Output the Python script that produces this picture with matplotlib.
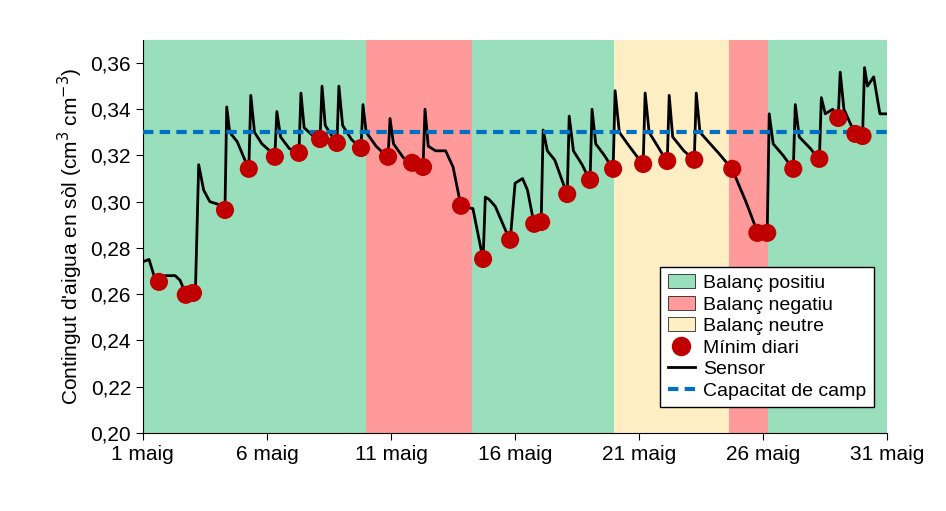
import matplotlib
matplotlib.use("Agg")
import matplotlib.pyplot as plt
from matplotlib.patches import Patch
from matplotlib.lines import Line2D

# Period shading (start day, end day, kind)
period_starts = [1, 10.0, 14.25, 20.0, 24.6, 26.2]
period_ends = [10.0, 14.25, 20.0, 24.6, 26.2, 31]
period_kind = ["pos", "neg", "pos", "neu", "neg", "pos"]
kind_colors = {"pos": "#99dfbb", "neg": "#ff9a9a", "neu": "#fdeec3"}

# Daily minimums
min_days = [1.65, 2.73, 3.02, 4.31, 5.27, 6.32, 7.29, 8.14, 8.82, 9.79, 10.88, 11.85, 12.29,
            13.82, 14.71, 15.80, 16.77, 17.05, 18.10, 19.02, 19.95, 21.16, 22.13, 23.22,
            24.75, 25.76, 26.16, 27.21, 28.26, 29.02, 29.71, 30.0]
min_vals = [0.2653, 0.2597, 0.2605, 0.2964, 0.3142, 0.3194, 0.3211, 0.3271, 0.3254, 0.3232,
            0.3194, 0.3168, 0.3150, 0.2982, 0.2752, 0.2835, 0.2904, 0.2912, 0.3033, 0.3094,
            0.3142, 0.3163, 0.3176, 0.3181, 0.3142, 0.2865, 0.2865, 0.3142, 0.3185, 0.3362,
            0.3293, 0.3284]

# Sensor trace
sensor_days = [1.0, 1.25, 1.45, 1.65, 1.9, 2.3, 2.5, 2.73, 3.02, 3.12, 3.25, 3.45, 3.7, 4.0, 4.31,
               4.38, 4.5, 4.8, 5.27, 5.35, 5.5, 5.8, 6.32, 6.4, 6.55, 6.9, 7.29, 7.37, 7.5, 7.8,
               8.14, 8.22, 8.35, 8.82, 8.9, 9.05, 9.4, 9.79, 9.87, 10.0, 10.4, 10.88, 10.96, 11.1,
               11.5, 11.85, 12.29, 12.37, 12.5, 12.8, 13.2, 13.5, 13.82, 14.3, 14.71, 14.8, 14.95,
               15.2, 15.8, 16.0, 16.3, 16.5, 16.77, 17.05, 17.13, 17.3, 17.6, 18.1, 18.18, 18.35,
               18.7, 19.02, 19.1, 19.25, 19.6, 19.95, 20.03, 20.2, 20.6, 21.16, 21.24, 21.4, 21.8,
               22.13, 22.21, 22.35, 22.8, 23.22, 23.3, 23.45, 24.2, 24.75, 25.3, 25.76, 26.16,
               26.24, 26.4, 26.8, 27.21, 27.29, 27.45, 27.9, 28.26, 28.34, 28.5, 28.8, 29.02,
               29.1, 29.25, 29.71, 30.0, 30.08, 30.2, 30.45, 30.7, 31.0]
sensor_vals = [0.274, 0.275, 0.268, 0.266, 0.268, 0.268, 0.266, 0.260, 0.261, 0.262, 0.316,
               0.305, 0.300, 0.299, 0.297, 0.341, 0.330, 0.326, 0.314, 0.346, 0.330, 0.325,
               0.320, 0.339, 0.328, 0.323, 0.321, 0.347, 0.332, 0.329, 0.327, 0.350, 0.333,
               0.325, 0.350, 0.333, 0.327, 0.323, 0.342, 0.330, 0.324, 0.319, 0.336, 0.325,
               0.319, 0.317, 0.315, 0.340, 0.324, 0.322, 0.322, 0.315, 0.298, 0.297, 0.275,
               0.302, 0.301, 0.298, 0.283, 0.308, 0.310, 0.305, 0.290, 0.291, 0.331, 0.322,
               0.318, 0.303, 0.337, 0.322, 0.316, 0.309, 0.340, 0.325, 0.320, 0.314, 0.348,
               0.330, 0.324, 0.316, 0.347, 0.330, 0.323, 0.317, 0.346, 0.328, 0.322, 0.318,
               0.347, 0.330, 0.321, 0.314, 0.300, 0.287, 0.287, 0.338, 0.325, 0.320, 0.314,
               0.342, 0.328, 0.323, 0.318, 0.345, 0.338, 0.340, 0.336, 0.356, 0.340, 0.329,
               0.328, 0.358, 0.350, 0.354, 0.338, 0.338]

field_capacity = 0.33
xticks = [1, 6, 11, 16, 21, 26, 31]
xticklabels = ["1 maig", "6 maig", "11 maig", "16 maig", "21 maig", "26 maig", "31 maig"]
yticks = [0.20, 0.22, 0.24, 0.26, 0.28, 0.30, 0.32, 0.34, 0.36]

plt.rcParams["font.family"] = ["Liberation Sans", "DejaVu Sans"]
fig = plt.figure(figsize=(9.46, 5.11), dpi=100)
ax = fig.add_axes([0.151, 0.153, 0.787, 0.769])

for s, e, k in zip(period_starts, period_ends, period_kind):
    ax.axvspan(s, e, color=kind_colors[k], lw=0, zorder=0)

ax.plot(sensor_days, sensor_vals, color="black", lw=2, zorder=2)
ax.axhline(field_capacity, color="#0070c0", lw=3, ls=(0, (2.5, 1.5)), zorder=3)
ax.scatter(min_days, min_vals, s=170, color="#c00000", zorder=4, edgecolors="none")

ax.set_xlim(1, 31)
ax.set_ylim(0.20, 0.37)
ax.set_xticks(xticks)
ax.set_xticklabels(xticklabels, fontsize=15)
ax.set_yticks(yticks)
ax.set_yticklabels([f"{v:.2f}".replace(".", ",") for v in yticks], fontsize=15)
ax.tick_params(direction="out", length=5)
ax.set_ylabel("Contingut d'aigua en sòl (cm$^3$ cm$^{-3}$)", fontsize=15)
for sp in ["top", "right"]:
    ax.spines[sp].set_visible(False)

handles = [
    Patch(facecolor=kind_colors["pos"], edgecolor="black", lw=0.5, label="Balanç positiu"),
    Patch(facecolor=kind_colors["neg"], edgecolor="black", lw=0.5, label="Balanç negatiu"),
    Patch(facecolor=kind_colors["neu"], edgecolor="black", lw=0.5, label="Balanç neutre"),
    Line2D([], [], marker="o", color="#c00000", ls="none", markersize=13, label="Mínim diari"),
    Line2D([], [], color="black", lw=2, label="Sensor"),
    Line2D([], [], color="#0070c0", lw=3, ls=(0, (2.5, 1.5)), label="Capacitat de camp"),
]
leg = ax.legend(handles=handles, loc="lower right", bbox_to_anchor=(0.995, 0.04), fontsize=14,
                frameon=True, fancybox=False, edgecolor="black", framealpha=1,
                handlelength=1.4, handletextpad=0.4, labelspacing=0.2, borderpad=0.4)
leg.get_frame().set_linewidth(1)

fig.savefig("out.png", dpi=100)
